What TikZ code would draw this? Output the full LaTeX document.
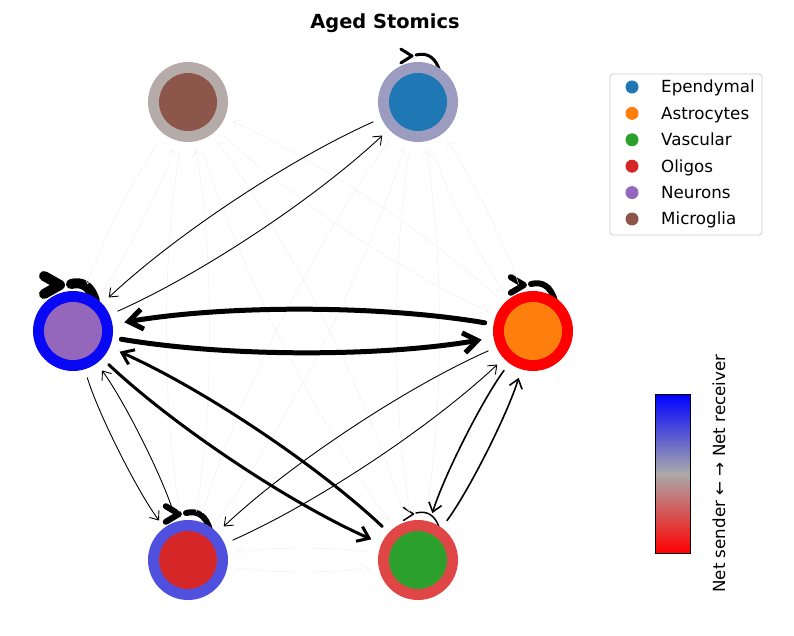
\documentclass[tikz,border=0pt]{standalone}
\usepackage{fontspec}
\setmainfont{DejaVu Sans}
\usetikzlibrary{arrows.meta,calc,backgrounds}
\definecolor{cEpe}{HTML}{1F77B4}
\definecolor{cAst}{HTML}{FF7F0E}
\definecolor{cVas}{HTML}{2CA02C}
\definecolor{cOli}{HTML}{D62728}
\definecolor{cNeu}{HTML}{9467BD}
\definecolor{cMic}{HTML}{8C564B}
\definecolor{rMic}{RGB}{181,171,169}
\definecolor{rEpe}{RGB}{155,156,192}
\definecolor{rNeu}{RGB}{8,8,245}
\definecolor{rAst}{RGB}{255,0,0}
\definecolor{rOli}{RGB}{80,80,222}
\definecolor{rVas}{RGB}{224,70,70}
\definecolor{cbMid}{RGB}{170,170,170}
% quadratic arc (matplotlib arc3 style) between two named nodes
\newcommand{\myedge}[3][]{\draw[#1] (#2) .. controls ($(#2)!2/3!($(#2)!0.5!(#3)!0.17!-90:(#3)$)$) and ($(#3)!2/3!($(#2)!0.5!(#3)!0.17!-90:(#3)$)$) .. (#3);}
\newcommand{\selfloop}[2]{%
  \pgfmathsetmacro{\tx}{-3-#2}%
  \pgfmathsetmacro{\bx}{\tx-9-0.7*#2}%
  \pgfmathsetmacro{\hh}{6+0.3*#2}%
  \draw[line width=#2pt, line cap=round, line join=round] ([shift={(-2,-47)}]#1.center) .. controls ([shift={(10,-50)}]#1.center) and ([shift={(18,-44)}]#1.center) .. ([shift={(22,-30)}]#1.center);
  \draw[line width=#2pt, line cap=round, line join=round] ([shift={(\bx,-46-\hh)}]#1.center) -- ([shift={(\tx,-46)}]#1.center) -- ([shift={(\bx,-46+\hh)}]#1.center);
}
\tikzset{
  cell/.style={circle, minimum size=80pt, inner sep=0pt, outer sep=9pt},
  ewid/.style={line width=#1, line cap=round, line join=round, -{Straight Barb[length=6pt 1.6, width=10pt 2]}},
  faint/.style={line width=0.5pt, draw=black!6, -{Straight Barb[length=7pt, width=11pt]}},
  legtext/.style={anchor=base west, inner sep=0pt, font=\fontsize{16.7}{20}\selectfont},
  legdot/.style={circle, minimum size=13pt, inner sep=0pt}
}
\begin{document}
\begin{tikzpicture}[x=1pt, y=-1pt]
\useasboundingbox (0,0) rectangle (794,636);
% nodes
\node[cell, fill=rMic] (M) at (188,102) {};
\node[cell, fill=rEpe] (E) at (418,102) {};
\node[cell, fill=rNeu] (N) at (73,331) {};
\node[cell, fill=rAst] (A) at (533,331) {};
\node[cell, fill=rOli] (O) at (188,560) {};
\node[cell, fill=rVas] (V) at (418,560) {};
\fill[cMic] (M.center) circle[radius=29pt];
\fill[cEpe] (E.center) circle[radius=29pt];
\fill[cNeu] (N.center) circle[radius=29pt];
\fill[cAst] (A.center) circle[radius=29pt];
\fill[cOli] (O.center) circle[radius=29pt];
\fill[cVas] (V.center) circle[radius=29pt];
% self loops
\begin{scope}[on background layer]
\selfloop{N}{10}
\selfloop{A}{6}
\selfloop{O}{6}
\selfloop{V}{1.5}
\selfloop{E}{3}
\end{scope}
% faint edges
\begin{scope}[on background layer]
\myedge[faint]{M}{N}\myedge[faint]{N}{M}
\myedge[faint]{M}{O}\myedge[faint]{O}{M}
\myedge[faint]{M}{V}\myedge[faint]{V}{M}
\myedge[faint]{M}{A}\myedge[faint]{A}{M}
\myedge[faint]{E}{A}\myedge[faint]{A}{E}
\myedge[faint]{E}{V}\myedge[faint]{V}{E}
\myedge[faint]{E}{O}\myedge[faint]{O}{E}
\myedge[faint]{O}{V}\myedge[faint]{V}{O}
\end{scope}
% strong edges
\myedge[ewid=5pt, shorten >=3pt]{A}{N}
\myedge[ewid=5pt, shorten >=3pt]{N}{A}
\myedge[ewid=3pt, shorten >=2pt]{N}{V}
\myedge[ewid=3pt, shorten >=2pt]{V}{N}
\myedge[ewid=0.9pt]{E}{N}
\myedge[ewid=0.9pt]{N}{E}
\myedge[ewid=0.9pt]{N}{O}
\myedge[ewid=0.9pt]{O}{N}
\myedge[ewid=0.9pt]{A}{O}
\myedge[ewid=0.9pt]{O}{A}
\myedge[ewid=1.6pt]{A}{V}
\myedge[ewid=1.6pt]{V}{A}
% title
\node[font=\bfseries\fontsize{19.4}{23}\selectfont] (title) at (385,23) {Aged Stomics};
% legend
\node[draw=black!20, line width=0.8pt, rounded corners=3pt, fill=white, minimum width=152pt, minimum height=161pt, inner sep=0pt] (leg) at (686,154.5) {};
\node[legdot, fill=cEpe] (d1) at (632,87) {};
\node[legdot, fill=cAst] (d2) at (632,113.4) {};
\node[legdot, fill=cVas] (d3) at (632,139.8) {};
\node[legdot, fill=cOli] (d4) at (632,166.2) {};
\node[legdot, fill=cNeu] (d5) at (632,192.6) {};
\node[legdot, fill=cMic] (d6) at (632,219) {};
\node[legtext] (t1) at (661,93) {Ependymal};
\node[legtext] (t2) at (661,119.4) {Astrocytes};
\node[legtext] (t3) at (661,145.8) {Vascular};
\node[legtext] (t4) at (661,172.2) {Oligos};
\node[legtext] (t5) at (661,198.6) {Neurons};
\node[legtext] (t6) at (661,225) {Microglia};
% colorbar
\node[draw=black, line width=0.8pt, minimum width=35pt, minimum height=159pt, inner sep=0pt,
      top color=blue, bottom color=red, middle color=cbMid] (cb) at (672.5,473.5) {};
\node[rotate=90, inner sep=0pt, font=\fontsize{16.7}{20}\selectfont] (cbl) at (719,473.5) {Net sender ← → Net receiver};
\end{tikzpicture}
\end{document}
